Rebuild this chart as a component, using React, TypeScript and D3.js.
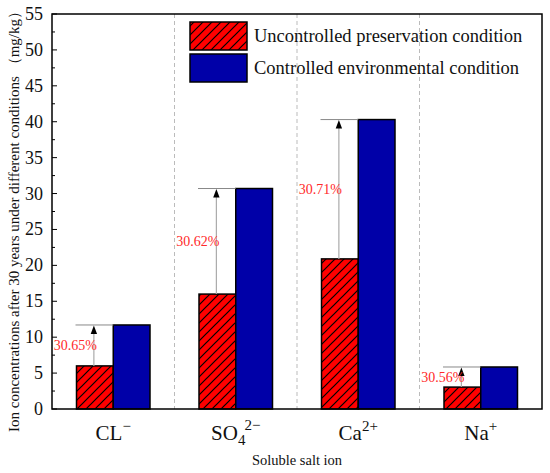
import { useEffect, useRef } from "react";
import * as d3 from "d3";

// ions (base, subscript, superscript)
const ions = ["CL", "SO4", "Ca", "Na"];
const ionBase = ["CL", "SO", "Ca", "Na"];
const ionSub = ["", "4", "", ""];
const ionSup = ["\u2212", "2\u2212", "2+", "+"];

const uncontrolled = [6.0, 16.0, 20.9, 3.05];
const controlled = [11.7, 30.7, 40.3, 5.85];
const increaseLabels = ["30.65%", "30.62%", "30.71%", "30.56%"];

const yTicks = [0, 5, 10, 15, 20, 25, 30, 35, 40, 45, 50, 55];
const legendLabels = ["Uncontrolled preservation condition", "Controlled environmental condition"];

const FONT = "Liberation Serif, DejaVu Serif, serif";

export default function App() {
  const ref = useRef<SVGSVGElement | null>(null);

  useEffect(() => {
    if (!ref.current) return;
    const width = 550;
    const height = 473;
    const margin = { top: 14, right: 8, bottom: 64, left: 52 };

    const svg = d3.select(ref.current).attr("width", width).attr("height", height)
      .style("font-family", FONT);
    svg.selectAll("*").remove();

    const defs = svg.append("defs");
    const pat = defs
      .append("pattern")
      .attr("id", "hatch")
      .attr("patternUnits", "userSpaceOnUse")
      .attr("width", 9)
      .attr("height", 9);
    pat.append("rect").attr("width", 9).attr("height", 9).attr("fill", "#ff0000");
    pat
      .append("path")
      .attr("d", "M-2,2 L2,-2 M0,9 L9,0 M7,11 L11,7")
      .attr("stroke", "#000")
      .attr("stroke-width", 1.2);

    const x = d3
      .scaleBand()
      .domain(ions)
      .range([margin.left, width - margin.right]);

    const y = d3
      .scaleLinear()
      .domain([0, 55])
      .range([height - margin.bottom, margin.top]);

    const barW = x.bandwidth() * 0.3;
    const y0 = y(0);

    /* ---------------- DASHED SEPARATORS ---------------- */
    ions.slice(1).forEach(d => {
      svg.append("line")
        .attr("x1", x(d)!)
        .attr("x2", x(d)!)
        .attr("y1", margin.top)
        .attr("y2", y0)
        .attr("stroke", "#bbb")
        .attr("stroke-width", 1)
        .attr("stroke-dasharray", "4,3");
    });

    /* ---------------- BARS ---------------- */
    ions.forEach((d, i) => {
      const cx = x(d)! + x.bandwidth() / 2;
      svg.append("rect")
        .attr("x", cx - barW)
        .attr("y", y(uncontrolled[i]))
        .attr("width", barW)
        .attr("height", y0 - y(uncontrolled[i]))
        .attr("fill", "url(#hatch)")
        .attr("stroke", "#000")
        .attr("stroke-width", 1.5);
      svg.append("rect")
        .attr("x", cx)
        .attr("y", y(controlled[i]))
        .attr("width", barW)
        .attr("height", y0 - y(controlled[i]))
        .attr("fill", "#0000a8")
        .attr("stroke", "#000")
        .attr("stroke-width", 1.5);

      // annotation
      const lx = cx - barW / 2 - 1;
      const top = y(controlled[i]);
      svg.append("line")
        .attr("x1", cx - barW - 1)
        .attr("x2", cx)
        .attr("y1", top)
        .attr("y2", top)
        .attr("stroke", "#888")
        .attr("stroke-width", 1);
      svg.append("line")
        .attr("x1", lx)
        .attr("x2", lx)
        .attr("y1", y(uncontrolled[i]))
        .attr("y2", top + 6)
        .attr("stroke", "#aaa")
        .attr("stroke-width", 1.2);
      svg.append("path")
        .attr("d", `M${lx},${top + 0.5} L${lx - 3.2},${top + 9} L${lx + 3.2},${top + 9} Z`)
        .attr("fill", "#000");
      svg.append("text")
        .attr("x", lx + 3)
        .attr("y", (y(uncontrolled[i]) + y(controlled[i])) / 2 + 5)
        .attr("text-anchor", "end")
        .attr("font-size", 14)
        .attr("fill", "#ff2a2a")
        .text(increaseLabels[i]);
    });

    /* ---------------- FRAME ---------------- */
    svg.append("rect")
      .attr("x", margin.left)
      .attr("y", margin.top)
      .attr("width", width - margin.left - margin.right)
      .attr("height", y0 - margin.top)
      .attr("fill", "none")
      .attr("stroke", "#000")
      .attr("stroke-width", 1.5);

    /* ---------------- Y AXIS ---------------- */
    const minor = d3.range(2.5, 55, 5);
    minor.forEach(v => {
      svg.append("line")
        .attr("x1", margin.left)
        .attr("x2", margin.left + 3)
        .attr("y1", y(v))
        .attr("y2", y(v))
        .attr("stroke", "#000")
        .attr("stroke-width", 1);
    });
    yTicks.forEach(v => {
      svg.append("line")
        .attr("x1", margin.left)
        .attr("x2", margin.left + 5)
        .attr("y1", y(v))
        .attr("y2", y(v))
        .attr("stroke", "#000")
        .attr("stroke-width", 1);
      svg.append("text")
        .attr("x", margin.left - 9)
        .attr("y", y(v) + 6)
        .attr("text-anchor", "end")
        .attr("font-size", 18)
        .attr("fill", "#111")
        .text(v);
    });

    svg.append("text")
      .attr("transform", `translate(19,218) rotate(-90)`)
      .attr("text-anchor", "middle")
      .attr("font-size", 15)
      .attr("fill", "#111")
      .text("Ion concentrations after 30 years under different conditions \uff08mg/kg\uff09");

    /* ---------------- X LABELS ---------------- */
    ions.forEach((d, i) => {
      const t = svg.append("text")
        .attr("x", x(d)! + x.bandwidth() / 2)
        .attr("y", 440)
        .attr("text-anchor", "middle")
        .attr("font-size", 21)
        .attr("fill", "#111");
      t.append("tspan").text(ionBase[i]);
      if (ionSub[i]) {
        t.append("tspan").attr("dy", 5).attr("font-size", 15).text(ionSub[i]);
        t.append("tspan").attr("dy", -15).attr("dx", -1).attr("font-size", 15).text(ionSup[i]);
      } else {
        t.append("tspan").attr("dy", -9).attr("font-size", 15).text(ionSup[i]);
      }
    });

    svg.append("text")
      .attr("x", (margin.left + width - margin.right) / 2)
      .attr("y", 465)
      .attr("text-anchor", "middle")
      .attr("font-size", 14.5)
      .attr("fill", "#111")
      .text("Soluble salt ion");

    /* ---------------- LEGEND ---------------- */
    const fills = ["url(#hatch)", "#0000a8"];
    legendLabels.forEach((lab, i) => {
      const ly = 22 + i * 32;
      svg.append("rect")
        .attr("x", 190)
        .attr("y", ly)
        .attr("width", 57)
        .attr("height", 28)
        .attr("fill", fills[i])
        .attr("stroke", "#000")
        .attr("stroke-width", 1.5);
      svg.append("text")
        .attr("x", 254)
        .attr("y", ly + 20)
        .attr("font-size", 18.5)
        .attr("fill", "#111")
        .text(lab);
    });
  }, []);

  return <svg ref={ref} style={{ position: "absolute", left: 0, top: 0, display: "block" }} />;
}
